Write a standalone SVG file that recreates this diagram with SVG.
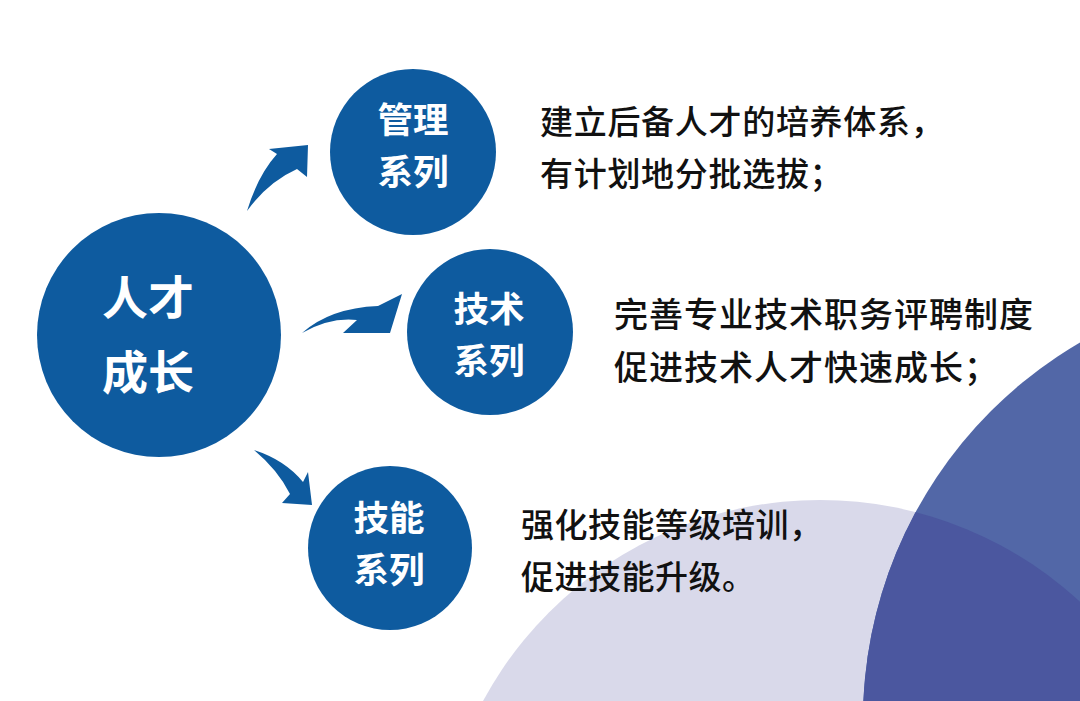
<svg xmlns="http://www.w3.org/2000/svg" width="1080" height="701" viewBox="0 0 1080 701">
<style>
.node{fill:#0e5b9f}
.nt{fill:#ffffff;font-family:"Noto Sans CJK SC","Noto Sans",sans-serif;font-weight:700;text-anchor:middle}
.bt{fill:#111111;font-family:"Noto Sans CJK SC","Noto Sans",sans-serif;font-weight:500}
.arrow{fill:#0e5b9f}
</style>
<defs>
<clipPath id="blueClip"><circle cx="1300" cy="720" r="437"/></clipPath>
</defs>
<rect width="1080" height="701" fill="#ffffff"/>
<g id="background">
<circle cx="820" cy="883" r="383" fill="#d9d9ea"/>
<circle cx="1300" cy="720" r="437" fill="#5267a7"/>
<circle cx="820" cy="883" r="383" fill="#4b579f" clip-path="url(#blueClip)"/>
</g>
<g id="connectors">
<path class="arrow" d="M247 211 Q258 175 277 154 L269 149 L308 145 L307 177 L297 169 Q268 182 247 211 Z"/>
<path class="arrow" d="M302 333 Q330 308 378 306 L402 294 L390 333 L343 333 L357 320 Q330 317 302 333 Z"/>
<path class="arrow" d="M254 450 Q285 460 303 482 L308 472 L312 505 L282 503 L290 494 Q278 470 254 450 Z"/>
</g>
<g id="node-main">
<circle class="node" cx="159" cy="335" r="122"/>
<text class="nt" font-size="46"><tspan x="148" y="314">人才</tspan><tspan x="148" y="389">成长</tspan></text>
</g>
<g id="node-management">
<circle class="node" cx="413" cy="152" r="83"/>
<text class="nt" font-size="35.5"><tspan x="413" y="133">管理</tspan><tspan x="413" y="185">系列</tspan></text>
</g>
<g id="node-technical">
<circle class="node" cx="490" cy="332" r="83"/>
<text class="nt" font-size="35.5"><tspan x="489" y="322">技术</tspan><tspan x="489" y="374">系列</tspan></text>
</g>
<g id="node-skill">
<circle class="node" cx="390" cy="548" r="82"/>
<text class="nt" font-size="35.5"><tspan x="389" y="531">技能</tspan><tspan x="389" y="583">系列</tspan></text>
</g>
<g id="text-management">
<text class="bt" font-size="33" letter-spacing="0.7"><tspan x="540" y="134">建立后备人才的培养体系，</tspan><tspan x="540" y="186">有计划地分批选拔；</tspan></text>
</g>
<g id="text-technical">
<text class="bt" font-size="34" letter-spacing="1"><tspan x="614" y="327">完善专业技术职务评聘制度</tspan><tspan x="614" y="380">促进技术人才快速成长；</tspan></text>
</g>
<g id="text-skill">
<text class="bt" font-size="33" letter-spacing="0.5"><tspan x="521" y="537">强化技能等级培训，</tspan><tspan x="521" y="589">促进技能升级。</tspan></text>
</g>
</svg>
